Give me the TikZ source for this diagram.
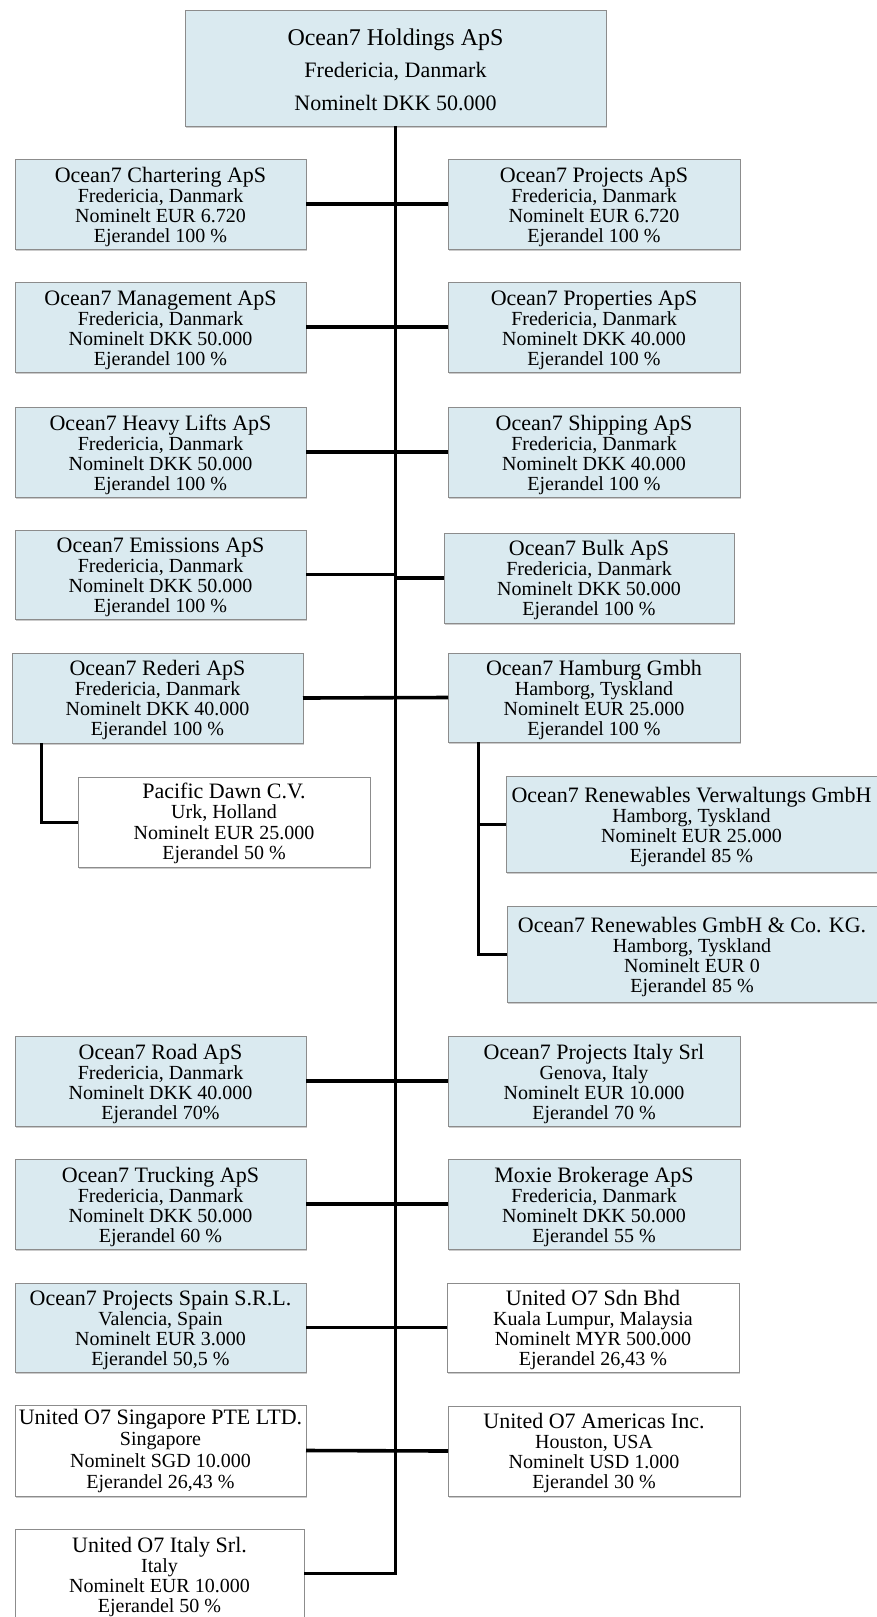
\documentclass[tikz,border=0pt]{standalone}
\usepackage{fontspec}
\setmainfont{Liberation Serif}
\usetikzlibrary{shadows}
\definecolor{boxblue}{RGB}{218,234,240}
\definecolor{boxline}{RGB}{140,140,140}
\tikzset{
  orgbox/.style={draw=boxline, line width=0.9pt, inner sep=0pt, outer sep=0pt, anchor=north west,
    drop shadow={shadow xshift=0.8pt, shadow yshift=-2.2pt, fill=black!45, opacity=0.45}},
  bluebox/.style={orgbox, fill=boxblue},
  whitebox/.style={orgbox, fill=white},
  link/.style={line width=3.6pt, black},
  sublink/.style={line width=3pt, black},
}
% style, name, x1, y1, x2, y2, first-baseline, baselineskip, content
\newcommand\OrgBox[9]{%
  \pgfmathsetmacro\obw{#5-#3}%
  \pgfmathsetmacro\obh{#6-#4}%
  \node[#1] (#2) at (#3,#4)
    {\parbox[t][\obh pt][t]{\obw pt}{\centering\fontsize{20}{#8}\selectfont\rule{0pt}{#7pt}#9}};%
}
\newcommand\Ttl[1]{{\fontsize{22}{20}\selectfont #1}}
\begin{document}
\begin{tikzpicture}[x=1pt,y=-1pt]
\useasboundingbox (0,0) rectangle (877,1617);
\fill[white] (0,0) rectangle (877,1617);

\OrgBox{bluebox}{top}{185}{10}{606}{126}{35}{32.5}{{\fontsize{24}{32.5}\selectfont Ocean7 Holdings ApS}\\ \fontsize{22}{32.5}\selectfont Fredericia, Danmark\\ Nominelt DKK 50.000}

\OrgBox{bluebox}{chart}{15}{159}{306}{249}{23}{20}{\Ttl{Ocean7 Chartering ApS}\\ Fredericia, Danmark\\ Nominelt EUR 6.720\\ Ejerandel 100 \%}
\OrgBox{bluebox}{proj}{448}{159}{740}{249}{23}{20}{\Ttl{Ocean7 Projects ApS}\\ Fredericia, Danmark\\ Nominelt EUR 6.720\\ Ejerandel 100 \%}

\OrgBox{bluebox}{mgmt}{15}{282}{306}{372}{23}{20}{\Ttl{Ocean7 Management ApS}\\ Fredericia, Danmark\\ Nominelt DKK 50.000\\ Ejerandel 100 \%}
\OrgBox{bluebox}{prop}{448}{282}{740}{372}{23}{20}{\Ttl{Ocean7 Properties ApS}\\ Fredericia, Danmark\\ Nominelt DKK 40.000\\ Ejerandel 100 \%}

\OrgBox{bluebox}{heavy}{15}{407}{306}{497}{23}{20}{\Ttl{Ocean7 Heavy Lifts ApS}\\ Fredericia, Danmark\\ Nominelt DKK 50.000\\ Ejerandel 100 \%}
\OrgBox{bluebox}{ship}{448}{407}{740}{497}{23}{20}{\Ttl{Ocean7 Shipping ApS}\\ Fredericia, Danmark\\ Nominelt DKK 40.000\\ Ejerandel 100 \%}

\OrgBox{bluebox}{emis}{15}{530}{306}{619}{22}{20}{\Ttl{Ocean7 Emissions ApS}\\ Fredericia, Danmark\\ Nominelt DKK 50.000\\ Ejerandel 100 \%}
\OrgBox{bluebox}{bulk}{444}{533}{734}{623}{22}{20}{\Ttl{Ocean7 Bulk ApS}\\ Fredericia, Danmark\\ Nominelt DKK 50.000\\ Ejerandel 100 \%}

\OrgBox{bluebox}{rederi}{12}{653}{303}{743}{22}{20}{\Ttl{Ocean7 Rederi ApS}\\ Fredericia, Danmark\\ Nominelt DKK 40.000\\ Ejerandel 100 \%}
\OrgBox{bluebox}{hamburg}{448}{653}{740}{742}{22}{20}{\Ttl{Ocean7 Hamburg Gmbh}\\ Hamborg, Tyskland\\ Nominelt EUR 25.000\\ Ejerandel 100 \%}

\OrgBox{whitebox}{pacific}{78}{777}{370}{867}{21}{20.5}{\Ttl{Pacific Dawn C.V.}\\ Urk, Holland\\ Nominelt EUR 25.000\\ Ejerandel 50 \%}

\OrgBox{bluebox}{verw}{506}{776}{877}{872}{26}{20}{\Ttl{Ocean7 Renewables Verwaltungs GmbH}\\ Hamborg, Tyskland\\ Nominelt EUR 25.000\\ Ejerandel 85 \%}
\OrgBox{bluebox}{gmbhco}{507}{906}{877}{1002}{26}{20}{\Ttl{Ocean7 Renewables GmbH \& Co. KG.}\\ Hamborg, Tyskland\\ Nominelt EUR 0\\ Ejerandel 85 \%}

\OrgBox{bluebox}{road}{15}{1036}{306}{1126}{23}{20}{\Ttl{Ocean7 Road ApS}\\ Fredericia, Danmark\\ Nominelt DKK 40.000\\ Ejerandel 70\%}
\OrgBox{bluebox}{projit}{448}{1036}{740}{1126}{23}{20}{\Ttl{Ocean7 Projects Italy Srl}\\ Genova, Italy\\ Nominelt EUR 10.000\\ Ejerandel 70 \%}

\OrgBox{bluebox}{truck}{15}{1159}{306}{1249}{23}{20}{\Ttl{Ocean7 Trucking ApS}\\ Fredericia, Danmark\\ Nominelt DKK 50.000\\ Ejerandel 60 \%}
\OrgBox{bluebox}{moxie}{448}{1159}{740}{1249}{23}{20}{\Ttl{Moxie Brokerage ApS}\\ Fredericia, Danmark\\ Nominelt DKK 50.000\\ Ejerandel 55 \%}

\OrgBox{bluebox}{spain}{15}{1283}{306}{1372}{22}{20}{\Ttl{Ocean7 Projects Spain S.R.L.}\\ Valencia, Spain\\ Nominelt EUR 3.000\\ Ejerandel 50,5 \%}
\OrgBox{whitebox}{sdn}{447}{1283}{739}{1372}{22}{20}{\Ttl{United O7 Sdn Bhd}\\ Kuala Lumpur, Malaysia\\ Nominelt MYR 500.000\\ Ejerandel 26,43 \%}

\OrgBox{whitebox}{singa}{15}{1405}{306}{1496}{19}{21.5}{\Ttl{United O7 Singapore PTE LTD.}\\ Singapore\\ Nominelt SGD 10.000\\ Ejerandel 26,43 \%}
\OrgBox{whitebox}{americas}{448}{1406}{740}{1496}{22}{20}{\Ttl{United O7 Americas Inc.}\\ Houston, USA\\ Nominelt USD 1.000\\ Ejerandel 30 \%}

\OrgBox{whitebox}{italy}{15}{1529}{304}{1618}{23}{20}{\Ttl{United O7 Italy Srl.}\\ Italy\\ Nominelt EUR 10.000\\ Ejerandel 50 \%}

% trunk
\draw[link] (top.south) -- (top.south |- italy.east) -- (italy.east);
% rows
\draw[link] (chart.east) -- (proj.west);
\draw[link] (mgmt.east) -- (prop.west);
\draw[link] (heavy.east) -- (ship.west);
\draw[link] (emis.east) -- (emis.east -| top.south) |- (bulk.west);
\draw[link] (rederi.east) -- (hamburg.west);
\draw[link] (road.east) -- (projit.west);
\draw[link] (truck.east) -- (moxie.west);
\draw[link] (spain.east) -- (sdn.west);
\draw[link] (singa.east) -- (americas.west);
% sub-branches
\draw[sublink] ([xshift=29pt]rederi.south west) |- (pacific.west);
\draw[sublink] ([xshift=30pt]hamburg.south west) |- (verw.west);
\draw[sublink] ([xshift=30pt]hamburg.south west) |- (gmbhco.west);
\end{tikzpicture}
\end{document}
